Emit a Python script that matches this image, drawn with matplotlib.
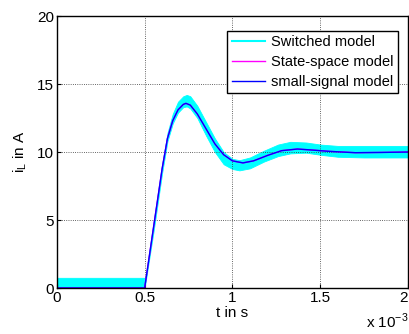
import numpy as np
import matplotlib
matplotlib.use("Agg")
import matplotlib.pyplot as plt

plt.rcParams['font.family'] = ['Liberation Sans', 'DejaVu Sans']

# time in ms (axis shows x 10^-3 s)
t_ms = [0, 0.5, 0.55, 0.6, 0.63, 0.66, 0.69, 0.72, 0.735, 0.76, 0.8, 0.85,
        0.9, 0.95, 1.0, 1.06, 1.12, 1.2, 1.28, 1.37, 1.45, 1.55, 1.7, 1.85, 2.0]
# state-space / small-signal model (nearly identical)
i_state = [0, 0, 4.4, 8.8, 11.0, 12.3, 13.1, 13.5, 13.58, 13.45, 12.8, 11.7,
           10.6, 9.8, 9.35, 9.2, 9.35, 9.75, 10.1, 10.22, 10.15, 10.05, 9.95, 9.97, 10.0]
i_small = [0, 0, 4.4, 8.8, 11.0, 12.3, 13.1, 13.5, 13.58, 13.45, 12.8, 11.7,
           10.6, 9.8, 9.35, 9.2, 9.35, 9.75, 10.1, 10.22, 10.15, 10.05, 9.95, 9.97, 10.0]

# switched model ripple envelope
t_sw = [0, 0.497, 0.5, 0.55, 0.6, 0.63, 0.66, 0.69, 0.72, 0.74, 0.76, 0.8, 0.85,
        0.9, 0.95, 1.0, 1.04, 1.1, 1.18, 1.26, 1.33, 1.42, 1.5, 1.6, 1.75, 1.9, 2.0]
sw_upper = [0.75, 0.75, 0.3, 4.7, 9.1, 11.4, 12.8, 13.7, 14.1, 14.2, 14.1, 13.4, 12.2,
            11.0, 10.0, 9.5, 9.4, 9.6, 10.1, 10.55, 10.75, 10.7, 10.55, 10.45, 10.45, 10.45, 10.45]
sw_lower = [0.0, 0.0, 0.0, 4.1, 8.5, 10.8, 12.1, 12.9, 13.3, 13.35, 13.2, 12.5, 11.2,
            10.0, 9.1, 8.75, 8.65, 8.8, 9.3, 9.7, 9.9, 9.95, 9.8, 9.65, 9.6, 9.6, 9.6]

fig = plt.figure(figsize=(4.09, 3.34), dpi=100)
ax = fig.add_axes([0.139, 0.1377, 0.8586, 0.8143])

ax.fill_between(t_sw, sw_lower, sw_upper, color='cyan', lw=0.6, edgecolor='cyan')
ax.plot([], [], color='cyan', lw=1.5, label='Switched model')
ax.plot(t_ms, i_state, color='magenta', lw=1, label='State-space model')
ax.plot(t_ms, i_small, color='blue', lw=1, label='small-signal model')

ax.set_xlim(0, 2)
ax.set_ylim(0, 20)
ax.set_xticks([0, 0.5, 1, 1.5, 2])
ax.set_xticklabels(['0', '0.5', '1', '1.5', '2'])
ax.set_yticks([0, 5, 10, 15, 20])
ax.tick_params(direction='in', labelsize=11, length=3, color='black', pad=2)
ax.get_xticklabels()[-1].set_ha('right')
ax.grid(True, color='#333333', linestyle=':', lw=0.6)
for s in ax.spines.values():
    s.set_linewidth(1)
ax.set_xlabel('t in s', fontsize=11, labelpad=1)
ax.set_ylabel('i$_\\mathregular{L}$ in A', fontsize=11, labelpad=6)
fig.text(0.998, 0.01, 'x 10$^{\\mathregular{-3}}$', fontsize=11, ha='right', va='bottom')

leg = ax.legend(loc='upper right', bbox_to_anchor=(0.971, 0.945), fontsize=10.5,
                fancybox=False, framealpha=1, edgecolor='black', borderpad=0.3,
                handlelength=2.3, handletextpad=0.4, labelspacing=0.4, borderaxespad=0)
leg.get_frame().set_linewidth(1)

fig.savefig('out.png', dpi=100)
